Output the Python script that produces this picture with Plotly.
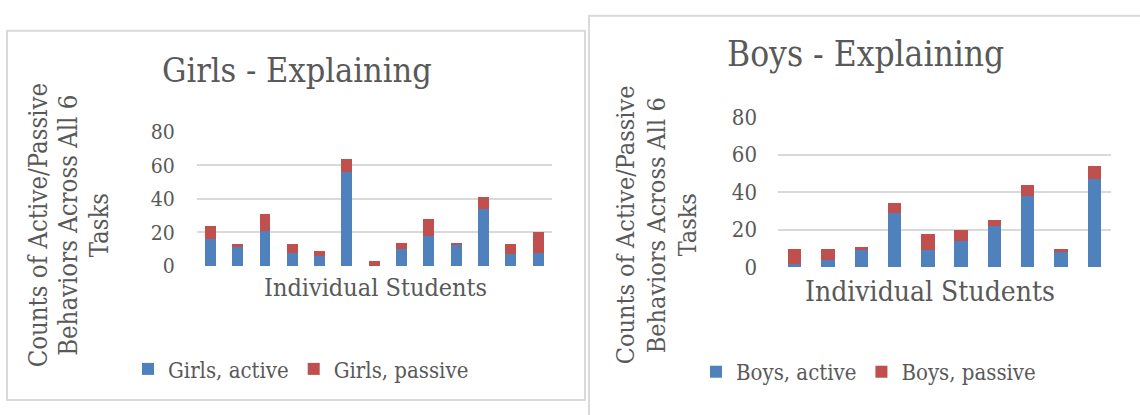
import plotly.graph_objects as go

# Counts per student (active + passive stacked)
girls_students = list(range(1, 14))
girls_active = [16, 12, 21, 8, 6, 56, 0, 10, 18, 13, 34, 7, 8]
girls_passive = [8, 1, 10, 5, 3, 8, 3, 4, 10, 1, 7, 6, 12]

boys_students = list(range(1, 11))
boys_active = [2, 4, 9, 29, 9, 14, 22, 38, 8, 47]
boys_passive = [8, 6, 2, 5, 9, 6, 3, 6, 2, 7]

y_ticks = [0, 20, 40, 60, 80]

BLUE = "#4F81BD"
RED = "#C0504D"
TEXT = "#595959"
GRID = "#D9D9D9"
FONT = "DejaVu Serif Condensed, DejaVu Serif, serif"

W, H = 1140, 415


def px_x(x):
    return x / W


def px_y(y):
    return 1 - y / H


fig = go.Figure()

fig.add_trace(go.Bar(x=girls_students, y=girls_active, name="Girls, active",
                     marker_color=BLUE, xaxis="x", yaxis="y", legend="legend"))
fig.add_trace(go.Bar(x=girls_students, y=girls_passive, name="Girls, passive",
                     marker_color=RED, xaxis="x", yaxis="y", legend="legend"))
fig.add_trace(go.Bar(x=boys_students, y=boys_active, name="Boys, active",
                     marker_color=BLUE, xaxis="x2", yaxis="y2", legend="legend2"))
fig.add_trace(go.Bar(x=boys_students, y=boys_passive, name="Boys, passive",
                     marker_color=RED, xaxis="x2", yaxis="y2", legend="legend2"))

fig.update_traces(marker_line_width=0)

xcommon = dict(showticklabels=False, showgrid=False, zeroline=False,
               ticks="", fixedrange=True)
ycommon = dict(range=[0, 80], tickvals=y_ticks, showgrid=True, gridcolor=GRID,
               gridwidth=2, zeroline=False, ticks="", showline=False)

fig.update_layout(
    width=W, height=H,
    margin=dict(l=0, r=0, t=0, b=0),
    paper_bgcolor="white", plot_bgcolor="white",
    barmode="stack", bargap=0.6,
    xaxis=dict(domain=[px_x(196.7), px_x(551.7)], range=[0.5, 13.5], **xcommon),
    yaxis=dict(domain=[px_y(270.3), px_y(127.3)], anchor="x", ticklabelstandoff=21,
               tickfont=dict(family=FONT, color=TEXT, size=21), **ycommon),
    xaxis2=dict(domain=[px_x(778), px_x(1111)], range=[0.5, 10.5], anchor="y2", **xcommon),
    yaxis2=dict(domain=[px_y(271.7), px_y(111.7)], anchor="x2", ticklabelstandoff=20,
                tickfont=dict(family=FONT, color=TEXT, size=22), **ycommon),
    legend=dict(orientation="h", x=px_x(128), y=px_y(380), xanchor="left", yanchor="middle",
                font=dict(family=FONT, color=TEXT, size=22), bgcolor="rgba(0,0,0,0)",
                traceorder="normal"),
    legend2=dict(orientation="h", x=px_x(696), y=px_y(383), xanchor="left", yanchor="middle",
                 font=dict(family=FONT, color=TEXT, size=22), bgcolor="rgba(0,0,0,0)",
                 traceorder="normal"),
    showlegend=True,
)

# Chart frames
fig.add_shape(type="rect", xref="paper", yref="paper",
              x0=px_x(7), x1=px_x(585), y0=px_y(413), y1=px_y(20),
              line=dict(color=GRID, width=2), fillcolor="rgba(0,0,0,0)", layer="below")
fig.add_shape(type="rect", xref="paper", yref="paper",
              x0=px_x(589), x1=px_x(1150), y0=px_y(430), y1=px_y(4),
              line=dict(color=GRID, width=2), fillcolor="rgba(0,0,0,0)", layer="below")

ytitle_lines = ["Counts of Active/Passive", "Behaviors Across All 6", "Tasks"]

annotations = [
    dict(text="Girls - Explaining", x=px_x(297), y=px_y(62), font=dict(size=34)),
    dict(text="Boys - Explaining", x=px_x(865), y=px_y(45), font=dict(size=35)),
    dict(text="Individual Students", x=px_x(375), y=px_y(293), font=dict(size=25)),
    dict(text="Individual Students", x=px_x(930), y=px_y(297), font=dict(size=28)),
]
for i, line in enumerate(ytitle_lines):
    annotations.append(dict(text=line, x=px_x(38 + 30.5 * i), y=px_y(227),
                            textangle=-90, font=dict(size=25.5)))
    annotations.append(dict(text=line, x=px_x(625 + 31 * i), y=px_y(227),
                            textangle=-90, font=dict(size=25)))
for a in annotations:
    a.update(xref="paper", yref="paper", xanchor="center", yanchor="middle",
             showarrow=False)
    a["font"].update(family=FONT, color=TEXT)
fig.update_layout(annotations=annotations)

fig.write_html("out.html")
